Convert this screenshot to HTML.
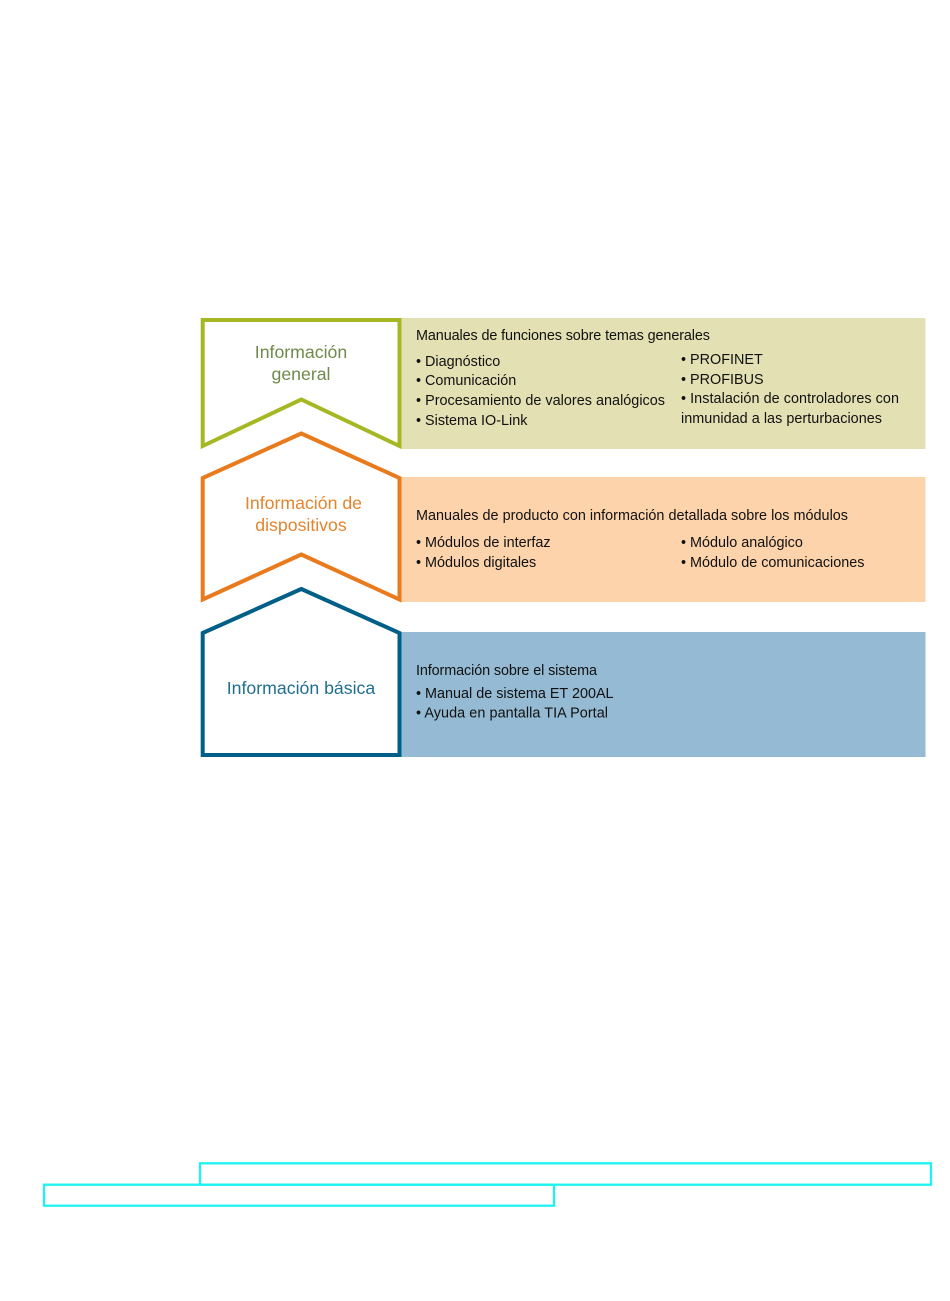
<!DOCTYPE html>
<html lang="es">
<head>
<meta charset="utf-8">
<title>Información</title>
<style>
html,body{margin:0;padding:0;background:#fff}
svg{display:block}
text{font-family:"Liberation Sans",sans-serif}
.t{font-size:14.4px;fill:#111}
.h{font-size:17.7px;text-anchor:middle}
</style>
</head>
<body>
<svg width="950" height="1301" viewBox="0 0 950 1301" xmlns="http://www.w3.org/2000/svg">
<rect width="950" height="1301" fill="#fff"/>
<rect x="401" y="318" width="524.500" height="131" fill="#e3e1b3"/>
<rect x="401" y="477" width="524.500" height="125" fill="#fcd3ab"/>
<rect x="401" y="632" width="524.500" height="125" fill="#95bad3"/>

<polygon points="202.700,320 399.500,320 399.500,446 301.300,399.500 202.700,446" fill="#fff" stroke="#a5b824" stroke-width="4"/>
<polygon points="202.700,478 301.300,433.500 399.500,478 399.500,599.500 301.300,554.500 202.700,599.500" fill="#fff" stroke="#e87b1e" stroke-width="4"/>
<polygon points="202.700,633 301.300,589 399.500,633 399.500,755 202.700,755" fill="#fff" stroke="#005f87" stroke-width="4"/>

<text class="h" x="301" y="358" fill="#6f8a4a">Información</text>
<text class="h" x="301" y="380" fill="#6f8a4a">general</text>
<text class="h" x="303.500" y="509" fill="#e5842c">Información de</text>
<text class="h" x="301" y="531" fill="#e5842c">dispositivos</text>
<text class="h" x="301" y="694" fill="#1f6f8f">Información básica</text>

<text class="t" x="416" y="340" textLength="294" lengthAdjust="spacing">Manuales de funciones sobre temas generales</text>
<text class="t" x="416" y="366">• Diagnóstico</text>
<text class="t" x="416" y="385">• Comunicación</text>
<text class="t" x="416" y="405" textLength="249" lengthAdjust="spacing">• Procesamiento de valores analógicos</text>
<text class="t" x="416" y="425">• Sistema IO-Link</text>
<text class="t" x="681" y="364">• PROFINET</text>
<text class="t" x="681" y="384">• PROFIBUS</text>
<text class="t" x="681" y="403" textLength="218" lengthAdjust="spacing">• Instalación de controladores con</text>
<text class="t" x="681" y="423" textLength="201" lengthAdjust="spacing">inmunidad a las perturbaciones</text>

<text class="t" x="416" y="520" textLength="432" lengthAdjust="spacing">Manuales de producto con información detallada sobre los módulos</text>
<text class="t" x="416" y="547">• Módulos de interfaz</text>
<text class="t" x="416" y="567">• Módulos digitales</text>
<text class="t" x="681" y="547">• Módulo analógico</text>
<text class="t" x="681" y="567">• Módulo de comunicaciones</text>

<text class="t" x="416" y="675" textLength="181" lengthAdjust="spacing">Información sobre el sistema</text>
<text class="t" x="416" y="698">• Manual de sistema ET 200AL</text>
<text class="t" x="416" y="717.500" textLength="192" lengthAdjust="spacing">• Ayuda en pantalla TIA Portal</text>

<rect x="200" y="1163.300" width="731" height="21.400" fill="none" stroke="#1ef2f2" stroke-width="2.300"/>
<rect x="44" y="1184.700" width="510" height="21" fill="none" stroke="#1ef2f2" stroke-width="2.300"/>
</svg>
</body>
</html>
